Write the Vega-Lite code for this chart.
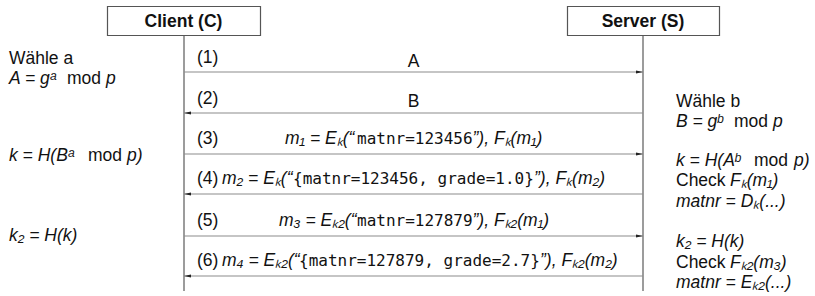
{
  "$schema": "https://vega.github.io/schema/vega-lite/v6.json",
  "width": 815,
  "height": 296,
  "padding": 0,
  "autosize": {"type": "fit", "contains": "padding"},
  "background": "white",
  "config": {"view": {"stroke": null}},
  "datasets": {
    "boxes": [
      {"name": "Client (C)", "x1": 107.5, "x2": 260.5, "y1": 6.5, "y2": 35.5},
      {"name": "Server (S)", "x1": 567.5, "x2": 719.5, "y1": 6.5, "y2": 35.5}
    ],
    "lifelines": [
      {"x": 184, "y1": 35.5, "y2": 291},
      {"x": 643, "y1": 35.5, "y2": 291}
    ],
    "arrows": [
      {"step": 1, "x1": 184, "x2": 643, "y": 72, "dir": "right", "hx": 639.5},
      {"step": 2, "x1": 184, "x2": 643, "y": 113, "dir": "left", "hx": 187.5},
      {"step": 3, "x1": 184, "x2": 643, "y": 154, "dir": "right", "hx": 639.5},
      {"step": 4, "x1": 184, "x2": 643, "y": 194, "dir": "left", "hx": 187.5},
      {"step": 5, "x1": 184, "x2": 643, "y": 236, "dir": "right", "hx": 639.5},
      {"step": 6, "x1": 184, "x2": 643, "y": 276, "dir": "left", "hx": 187.5}
    ],
    "texts": [
      {"t": "Client (C)", "x": 183.5, "y": 27, "kind": "bold"},
      {"t": "Server (S)", "x": 643, "y": 27, "kind": "bold"},
      {"t": "A", "x": 413.5, "y": 67, "kind": "center"},
      {"t": "B", "x": 413.5, "y": 107, "kind": "center"},
      {"t": "Wähle a", "x": 9, "y": 64, "kind": "sans"},
      {"t": "(1)", "x": 197, "y": 63, "kind": "sans"},
      {"t": "(2)", "x": 197, "y": 104, "kind": "sans"},
      {"t": "(3)", "x": 197, "y": 144, "kind": "sans"},
      {"t": "(4)", "x": 197, "y": 184, "kind": "sans"},
      {"t": "(5)", "x": 197, "y": 226, "kind": "sans"},
      {"t": "(6)", "x": 197, "y": 266, "kind": "sans"},
      {"t": "mod", "x": 67, "y": 84, "kind": "sans"},
      {"t": "mod", "x": 88, "y": 161, "kind": "sans"},
      {"t": "Wähle b", "x": 676, "y": 107, "kind": "sans"},
      {"t": "mod", "x": 734, "y": 127, "kind": "sans"},
      {"t": "mod", "x": 754, "y": 166, "kind": "sans"},
      {"t": "Check", "x": 676, "y": 186, "kind": "sans"},
      {"t": "Check", "x": 676, "y": 268, "kind": "sans"},
      {"t": "A = gᵃ", "x": 9, "y": 84, "kind": "italic"},
      {"t": "p", "x": 106, "y": 84, "kind": "italic"},
      {"t": "k = H(Bᵃ", "x": 9, "y": 161, "kind": "italic"},
      {"t": "p)", "x": 127, "y": 161, "kind": "italic"},
      {"t": "k₂ = H(k)", "x": 9, "y": 241, "kind": "italic"},
      {"t": "B = gᵇ", "x": 676, "y": 127, "kind": "italic"},
      {"t": "p", "x": 773, "y": 127, "kind": "italic"},
      {"t": "k = H(Aᵇ", "x": 676, "y": 166, "kind": "italic"},
      {"t": "p)", "x": 794, "y": 166, "kind": "italic"},
      {"t": "Fₖ(m₁)", "x": 730, "y": 186, "kind": "italic"},
      {"t": "matnr = Dₖ(...)", "x": 676, "y": 207, "kind": "italic"},
      {"t": "k₂ = H(k)", "x": 676, "y": 247, "kind": "italic"},
      {"t": "Fₖ₂(m₃)", "x": 730, "y": 268, "kind": "italic"},
      {"t": "matnr = Eₖ₂(...)", "x": 676, "y": 288, "kind": "italic"},
      {"t": "m₁ = Eₖ(“", "x": 285, "y": 144, "kind": "italic"},
      {"t": "”), Fₖ(m₁)", "x": 472.5, "y": 144, "kind": "italic"},
      {"t": "m₂ = Eₖ(“", "x": 222, "y": 184, "kind": "italic"},
      {"t": "”), Fₖ(m₂)", "x": 534, "y": 184, "kind": "italic"},
      {"t": "m₃ = Eₖ₂(“", "x": 279, "y": 226, "kind": "italic"},
      {"t": "”), Fₖ₂(m₁)", "x": 472.5, "y": 226, "kind": "italic"},
      {"t": "m₄ = Eₖ₂(“", "x": 222, "y": 266, "kind": "italic"},
      {"t": "”), Fₖ₂(m₂)", "x": 540, "y": 266, "kind": "italic"},
      {"t": "matnr=123456", "x": 357, "y": 144, "kind": "mono"},
      {"t": "{matnr=123456, grade=1.0}", "x": 293, "y": 184, "kind": "mono"},
      {"t": "matnr=127879", "x": 357, "y": 226, "kind": "mono"},
      {"t": "{matnr=127879, grade=2.7}", "x": 299, "y": 266, "kind": "mono"}
    ]
  },
  "layer": [
    {
      "data": {"name": "lifelines"},
      "mark": {"type": "rule", "color": "#5a5a5a", "strokeWidth": 1.2},
      "encoding": {
        "x": {"field": "x", "type": "quantitative", "scale": {"domain": [0, 815], "nice": false, "zero": false}, "axis": null},
        "y": {"field": "y1", "type": "quantitative", "scale": {"domain": [0, 296], "nice": false, "zero": false, "reverse": true}, "axis": null},
        "y2": {"field": "y2"}
      }
    },
    {
      "data": {"name": "boxes"},
      "mark": {"type": "rect", "fill": "white", "stroke": "#555555", "strokeWidth": 1.2},
      "encoding": {
        "x": {"field": "x1", "type": "quantitative", "scale": {"domain": [0, 815], "nice": false, "zero": false}, "axis": null},
        "x2": {"field": "x2"},
        "y": {"field": "y1", "type": "quantitative", "scale": {"domain": [0, 296], "nice": false, "zero": false, "reverse": true}, "axis": null},
        "y2": {"field": "y2"}
      }
    },
    {
      "data": {"name": "arrows"},
      "mark": {"type": "rule", "color": "#8c8c8c", "strokeWidth": 1.2},
      "encoding": {
        "x": {"field": "x1", "type": "quantitative", "scale": {"domain": [0, 815], "nice": false, "zero": false}, "axis": null},
        "x2": {"field": "x2"},
        "y": {"field": "y", "type": "quantitative", "scale": {"domain": [0, 296], "nice": false, "zero": false, "reverse": true}, "axis": null}
      }
    },
    {
      "data": {"name": "arrows"},
      "mark": {"type": "point", "filled": true, "size": 49, "color": "#222222", "opacity": 1, "strokeWidth": 0},
      "encoding": {
        "x": {"field": "hx", "type": "quantitative", "scale": {"domain": [0, 815], "nice": false, "zero": false}, "axis": null},
        "y": {"field": "y", "type": "quantitative", "scale": {"domain": [0, 296], "nice": false, "zero": false, "reverse": true}, "axis": null},
        "shape": {"field": "dir", "type": "nominal", "scale": {"domain": ["right", "left"], "range": ["M1,0L-1,-0.45L-1,0.45Z", "M-1,0L1,-0.45L1,0.45Z"]}, "legend": null}
      }
    },
    {
      "data": {"name": "texts"},
      "transform": [{"filter": "datum.kind === 'bold'"}],
      "mark": {"type": "text", "font": "Liberation Sans", "fontSize": 17.5, "fontWeight": "bold", "align": "center", "baseline": "alphabetic", "color": "#111111"},
      "encoding": {
        "x": {"field": "x", "type": "quantitative", "scale": {"domain": [0, 815], "nice": false, "zero": false}, "axis": null},
        "y": {"field": "y", "type": "quantitative", "scale": {"domain": [0, 296], "nice": false, "zero": false, "reverse": true}, "axis": null},
        "text": {"field": "t"}
      }
    },
    {
      "data": {"name": "texts"},
      "transform": [{"filter": "datum.kind === 'center'"}],
      "mark": {"type": "text", "font": "Liberation Sans", "fontSize": 17.5, "align": "center", "baseline": "alphabetic", "color": "#111111"},
      "encoding": {
        "x": {"field": "x", "type": "quantitative", "scale": {"domain": [0, 815], "nice": false, "zero": false}, "axis": null},
        "y": {"field": "y", "type": "quantitative", "scale": {"domain": [0, 296], "nice": false, "zero": false, "reverse": true}, "axis": null},
        "text": {"field": "t"}
      }
    },
    {
      "data": {"name": "texts"},
      "transform": [{"filter": "datum.kind === 'sans'"}],
      "mark": {"type": "text", "font": "Liberation Sans", "fontSize": 17.5, "align": "left", "baseline": "alphabetic", "color": "#111111"},
      "encoding": {
        "x": {"field": "x", "type": "quantitative", "scale": {"domain": [0, 815], "nice": false, "zero": false}, "axis": null},
        "y": {"field": "y", "type": "quantitative", "scale": {"domain": [0, 296], "nice": false, "zero": false, "reverse": true}, "axis": null},
        "text": {"field": "t"}
      }
    },
    {
      "data": {"name": "texts"},
      "transform": [{"filter": "datum.kind === 'italic'"}],
      "mark": {"type": "text", "font": "Liberation Sans", "fontSize": 17.5, "fontStyle": "italic", "align": "left", "baseline": "alphabetic", "color": "#111111"},
      "encoding": {
        "x": {"field": "x", "type": "quantitative", "scale": {"domain": [0, 815], "nice": false, "zero": false}, "axis": null},
        "y": {"field": "y", "type": "quantitative", "scale": {"domain": [0, 296], "nice": false, "zero": false, "reverse": true}, "axis": null},
        "text": {"field": "t"}
      }
    },
    {
      "data": {"name": "texts"},
      "transform": [{"filter": "datum.kind === 'mono'"}],
      "mark": {"type": "text", "font": "DejaVu Sans Mono", "fontSize": 16, "align": "left", "baseline": "alphabetic", "color": "#111111"},
      "encoding": {
        "x": {"field": "x", "type": "quantitative", "scale": {"domain": [0, 815], "nice": false, "zero": false}, "axis": null},
        "y": {"field": "y", "type": "quantitative", "scale": {"domain": [0, 296], "nice": false, "zero": false, "reverse": true}, "axis": null},
        "text": {"field": "t"}
      }
    }
  ]
}
